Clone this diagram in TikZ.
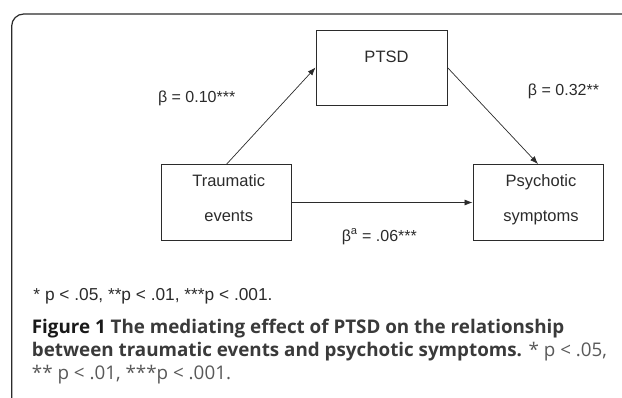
\documentclass[tikz,border=0pt]{standalone}
\usepackage{fontspec}
\setmainfont{Liberation Sans}
\newfontfamily\capfont{Open Sans}
\usetikzlibrary{arrows.meta,positioning}

\definecolor{inkgray}{HTML}{2B2B2B}
\definecolor{capgray}{HTML}{3A3A3A}

\tikzset{
  varbox/.style={draw=inkgray,line width=0.9pt,rectangle,inner sep=0pt,
    minimum width=130pt,minimum height=76pt,align=center,text depth=9pt,
    font=\fontsize{16.5}{18}\selectfont,text=inkgray},
  effect/.style={draw=inkgray,line width=0.7pt,-{Latex[length=8pt,width=6pt]}},
  coef/.style={anchor=base,font=\fontsize{16}{18}\selectfont,text=inkgray,inner sep=0pt},
  capline/.style={anchor=base west,inner sep=0pt,font=\capfont\fontsize{18.8}{22}\selectfont}
}

\begin{document}
\begin{tikzpicture}[x=1pt,y=-1pt]
          \useasboundingbox (0,0) rectangle (622,397);
          \clip (0,0) rectangle (622,397);
          % panel frame
          \draw[inkgray,line width=1.2pt,rounded corners=12pt] (11.7,410) -- (11.7,14) -- (640,14);
          % variables
          \node[varbox,minimum width=131pt,minimum height=75pt,
                label={[anchor=center,xshift=5pt,yshift=10.5pt,font=\fontsize{16.5}{18}\selectfont,text=inkgray]center:PTSD}]
                (ptsd) at (381.5,67.5) {};
          \node[varbox] (trauma) at (226.7,202.5) {\hspace{4pt}Traumatic\\[17.5pt]\hspace{4pt}events};
          \node[varbox] (psych) at (538,202.5) {\hspace{6pt}Psychotic\\[17.5pt]\hspace{6pt}symptoms};
          % paths
          \draw[effect] (trauma.north) -- (ptsd.west);
          \draw[effect] (ptsd.east) -- (psych.north);
          \draw[effect] (trauma.east) -- (psych.west);
          % coefficients
          \node[coef] (b1) at (196.7,102) {β = 0.10***};
          \node[coef] (b2) at (563.5,95) {β = 0.32**};
          \node[coef] (b3) at (379.3,241) {β\textsuperscript{a} = .06***};
          \node[coef,anchor=base west,font=\fontsize{17.3}{18}\selectfont] (note) at (33.3,300) {* p < .05, **p < .01, ***p < .001.};
          % caption
          \node[capline] (cap1) at (31.7,333) {\textbf{\color{black!90}Figure 1} \textcolor{capgray}{\textbf{The mediating effect of PTSD on the relationship}}};
          \node[capline] (cap2) at (31.7,356) {\textcolor{capgray}{\textbf{between traumatic events and psychotic symptoms.}} \textcolor{black!65}{* p < .05,}};
          \node[capline,text=black!65] (cap3) at (31.7,379) {** p < .01, ***p < .001.};
        \end{tikzpicture}
\end{document}
